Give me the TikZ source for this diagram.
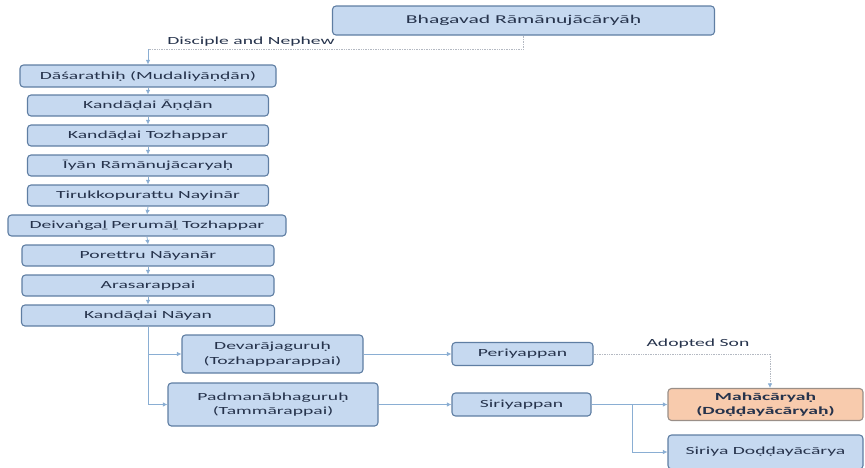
\documentclass[tikz,border=0pt]{standalone}
\usepackage{fontspec}
\setmainfont[FakeStretch=1.8]{Carlito}
\usetikzlibrary{arrows.meta}
\definecolor{boxfill}{HTML}{C6D9F0}
\definecolor{boxline}{HTML}{5F7EA3}
\definecolor{peach}{HTML}{F8CBAD}
\definecolor{peachline}{HTML}{9A8F88}
\definecolor{conn}{HTML}{8AAED3}
\definecolor{txt}{HTML}{26334C}
\definecolor{dotc}{HTML}{B4B9C2}
\begin{document}
\begin{tikzpicture}[x=1pt,y=-1pt,
  every node/.style={font=\fontsize{10.9}{14.5}\selectfont, text=txt},
  stepbox/.style={draw=boxline, fill=boxfill, rounded corners=3.5pt, line width=1.1pt, inner sep=0pt, align=center},
  peachbox/.style={stepbox, draw=peachline, fill=peach, font=\bfseries\fontsize{10.9}{14.5}\selectfont},
  sz/.style 2 args={minimum width=#1, minimum height=#2},
  arr/.style={draw=conn, line width=0.8pt, -{Latex[length=4.5pt,width=4.5pt]}},
  dotline/.style={draw=dotc, line width=0.7pt, densely dotted},
  lbl/.style={inner sep=1pt}]
\useasboundingbox (0,0) rectangle (865,467);
\clip (0,0) rectangle (865,467);

\node[stepbox, sz={382}{29}, font=\fontsize{12}{14.5}\selectfont] (bhag) at (523.5,20.5) {Bhagavad Rāmānujācāryāḥ};

\node[stepbox, sz={256}{22}] (das)  at (148,76)    {Dāśarathiḥ (Mudaliyāṇḍān)};
\node[stepbox, sz={241}{21}] (and)  at (148,105.5) {Kandāḍai Āṇḍān};
\node[stepbox, sz={241}{21}] (toz)  at (148,135.5) {Kandāḍai Tozhappar};
\node[stepbox, sz={241}{21}] (iyan) at (148,165.5) {Īyān Rāmānujācaryaḥ};
\node[stepbox, sz={241}{21}] (tir)  at (148,195.5) {Tirukkopurattu Nayinār};
\node[stepbox, sz={278}{21}] (dei)  at (147,225.5) {Deivaṅgaḻ Perumāḻ Tozhappar};
\node[stepbox, sz={252}{21}] (por)  at (148,255.5) {Porettru Nāyanār};
\node[stepbox, sz={252}{21}] (ara)  at (148,285.5) {Arasarappai};
\node[stepbox, sz={253}{21}] (nay)  at (148,315.5) {Kandāḍai Nāyan};

\node[stepbox, sz={181}{38}] (deva)  at (272.5,354) {Devarājaguruḥ\\(Tozhapparappai)};
\node[stepbox, sz={210}{43}] (padma) at (273,404.5) {Padmanābhaguruḥ\\(Tammārappai)};
\node[stepbox, sz={141}{23}] (peri)  at (522.5,354) {Periyappan};
\node[stepbox, sz={139}{23}] (siri)  at (521.5,404.5) {Siriyappan};
\node[peachbox, sz={195}{32}] (maha) at (765.5,404.5) {Mahācāryaḥ\\(Doḍḍayācāryaḥ)};
\node[stepbox, sz={195}{34}] (sd)    at (765.5,452) {Siriya Doḍḍayācārya};

% Disciple and Nephew
\coordinate (d1) at (148,49);
\draw[dotline] (bhag.south) |- (d1);
\draw[arr] (d1) -- (das.north);
\node[lbl] (dn) at (251,42) {Disciple and Nephew};

% chain
\draw[arr] (das.south) -- (and.north);
\draw[arr] (and.south) -- (toz.north);
\draw[arr] (toz.south) -- (iyan.north);
\draw[arr] (iyan.south) -- (tir.north);
\draw[arr] (tir.south) -- (dei.north);
\draw[arr] (dei.south) -- (por.north);
\draw[arr] (por.south) -- (ara.north);
\draw[arr] (ara.south) -- (nay.north);

% branches
\draw[arr] (nay.south) |- (padma.west);
\draw[arr] (nay.south) |- (deva.west);
\draw[arr] (deva.east) -- (peri.west);
\draw[arr] (padma.east) -- (siri.west);
\draw[arr] (siri.east) -- (maha.west);
\coordinate (b1) at (632,404.5);
\draw[arr] (b1) |- (sd.west);

% adopted son
\coordinate (a1) at (770,354);
\draw[dotline] (peri.east) -- (a1);
\draw[dotline, -{Latex[length=4.5pt,width=4.5pt,color=conn]}] (a1) -- (a1 |- maha.north);
\node[lbl] (ad) at (698,344) {Adopted Son};
\end{tikzpicture}
\end{document}
